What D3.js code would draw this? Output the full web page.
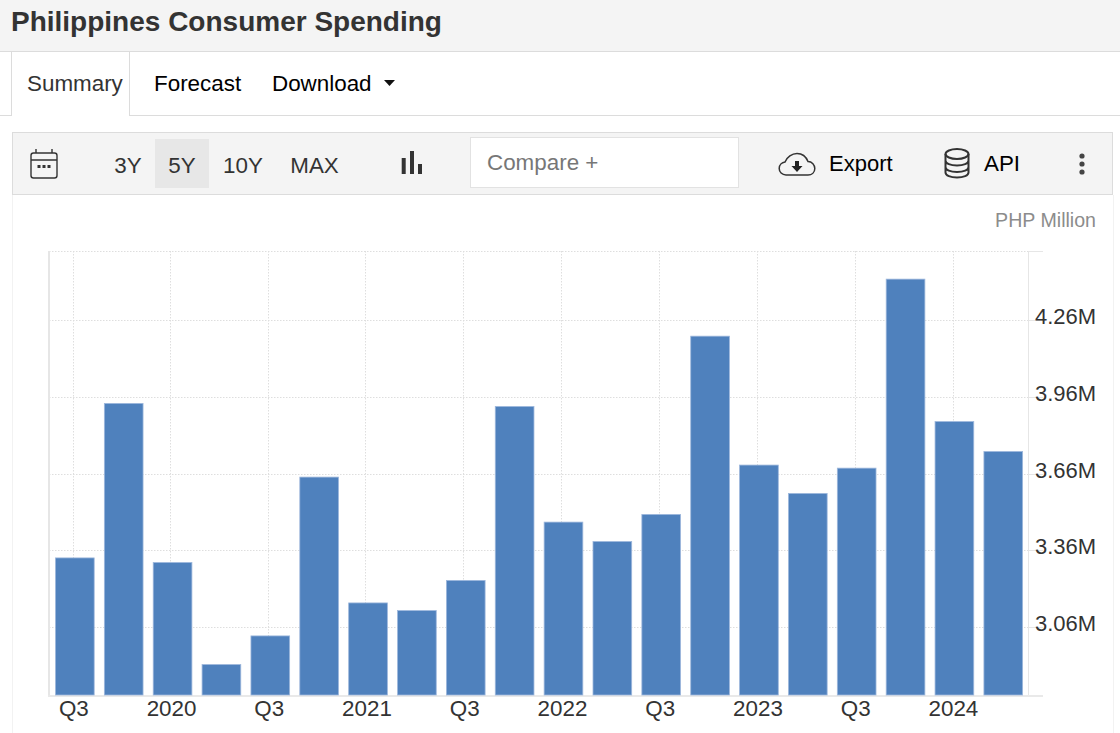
<!DOCTYPE html>
<html><head><meta charset="utf-8">
<script src="https://cdn.jsdelivr.net/npm/d3@7"></script>
<style>html,body{margin:0;padding:0;background:#fff;overflow:hidden}svg{display:block}text{font-family:"Liberation Sans",Arial,sans-serif}</style>
</head><body><svg id="c" width="1120" height="733"></svg>
<script>
const quarters=["2019Q3","2019Q4","2020Q1","2020Q2","2020Q3","2020Q4","2021Q1","2021Q2","2021Q3","2021Q4","2022Q1","2022Q2","2022Q3","2022Q4","2023Q1","2023Q2","2023Q3","2023Q4","2024Q1","2024Q2"];
const spending=[3.332,3.936,3.314,2.915,3.027,3.648,3.156,3.126,3.244,3.924,3.472,3.396,3.502,4.199,3.695,3.584,3.683,4.422,3.865,3.748];
const yTicks=[3.06,3.36,3.66,3.96,4.26];
const xTickLabels={"2019Q3":"Q3","2020Q1":"2020","2020Q3":"Q3","2021Q1":"2021","2021Q3":"Q3","2022Q1":"2022","2022Q3":"Q3","2023Q1":"2023","2023Q3":"Q3","2024Q1":"2024"};
const rangeLabels=["3Y","5Y","10Y","MAX"];

const svg=d3.select("#c");
const rect=(x,y,w,h,f,s)=>svg.append("rect").attr("x",x).attr("y",y).attr("width",w).attr("height",h).attr("fill",f).attr("stroke",s||"none");
const line=(x1,y1,x2,y2,s,d)=>svg.append("line").attr("x1",x1).attr("y1",y1).attr("x2",x2).attr("y2",y2).attr("stroke",s).attr("stroke-dasharray",d||null);
const text=(x,y,t,size,fill,anchor,weight)=>svg.append("text").attr("x",x).attr("y",y).attr("font-size",size).attr("fill",fill).attr("text-anchor",anchor||"start").attr("font-weight",weight||"normal").text(t);

// header
rect(0,0,1120,51,"#f4f4f4");
line(0,51.5,1120,51.5,"#dcdcdc");
text(11,31,"Philippines Consumer Spending",28,"#333","start","bold");
// tabs
line(0,115.5,11,115.5,"#dcdcdc");line(129,115.5,1120,115.5,"#dcdcdc");
line(11.5,52,11.5,116,"#dcdcdc");line(129.5,52,129.5,116,"#dcdcdc");
text(27,90.5,"Summary",22.4,"#333");
text(154,90.5,"Forecast",22.4,"#000");
text(272,90.5,"Download",22.4,"#000");
svg.append("path").attr("d","M384 80h11l-5.500 6z").attr("fill","#111");
// toolbar
rect(12.5,132.5,1100,62,"#f4f4f4","#dcdcdc");
rect(155,139,54,49,"#e7e7e7");
[128,182,243,314.500].forEach((x,i)=>text(x,172.500,rangeLabels[i],22.4,"#333","middle"));
// calendar icon
const ic=svg.append("g").attr("fill","none").attr("stroke","#333").attr("stroke-width",1.4);
ic.append("rect").attr("x",31).attr("y",153).attr("width",26).attr("height",25).attr("rx",2.500);
ic.append("path").attr("d","M31 160h26M36 149v4M52 149v4");
svg.append("path").attr("d","M37.500 165h3v3h-3zM42.500 165h3v3h-3zM47.500 165h3v3h-3z").attr("fill","#333");
// bar-type icon
svg.append("path").attr("d","M401.700 158h4v16h-4zM410 151h4v23h-4zM418 164h4v10h-4z").attr("fill","#333");
// compare input
rect(470.500,137.500,268,50,"#fff","#e2e2e2");
text(487,169.500,"Compare +",22.4,"#777");
// export cloud
svg.append("path").attr("d","M786 175c-4 0-6.800-3-6.800-6.500c0-3.500 2.800-6 5.800-6.500c2-5 7-8.500 12-8.500c5 0 9 3 11 8c4 0 6.800 3.500 6.800 7c0 4-3 6.500-6.800 6.500z").attr("fill","none").attr("stroke","#333").attr("stroke-width",1.500);
svg.append("path").attr("d","M795 161h4v5h3.500l-5.500 6-5.500-6h3.500z").attr("fill","#222");
text(829,170.500,"Export",22,"#000");
// database icon
const db=svg.append("g").attr("fill","none").attr("stroke","#333").attr("stroke-width",2);
db.append("ellipse").attr("cx",957).attr("cy",154).attr("rx",11.500).attr("ry",5);
db.append("path").attr("d","M945.500 154v18.500c0 3 5 5 11.500 5s11.500-2 11.500-5v-18.500M945.500 160.500c0 3 5 5 11.500 5s11.500-2 11.500-5M945.500 167c0 3 5 5 11.500 5s11.500-2 11.500-5");
text(984,170.500,"API",22.4,"#000");
[156,164,172].forEach(cy=>svg.append("circle").attr("cx",1082).attr("cy",cy).attr("r",2.600).attr("fill","#444"));
// panel borders
line(12.5,195,12.5,733,"#f2f2f2");line(1113.5,195,1113.5,733,"#f2f2f2");
text(1096,227,"PHP Million",19.6,"#8c8c8c","end");

// chart
const plot={left:49,right:1028,top:251,bottom:695};
const x=d3.scaleBand().domain(quarters).range([50.6,1027.9]).paddingInner(0.2).paddingOuter(0.1);
const y=d3.scaleLinear().domain([2.796,4.532]).range([plot.bottom,plot.top]);
const gridX=[73,170,268,365,463,561,659,757,855,953];
const gridDash="1.500 1.500";
const gy=svg.append("g");
yTicks.forEach(v=>gy.append("line").attr("x1",plot.left).attr("x2",plot.right).attr("y1",Math.floor(y(v))+.5).attr("y2",Math.floor(y(v))+.5).attr("stroke","#dedede").attr("stroke-dasharray",gridDash));
gy.append("line").attr("x1",plot.left).attr("x2",plot.right).attr("y1",plot.top+.5).attr("y2",plot.top+.5).attr("stroke","#dedede").attr("stroke-dasharray",gridDash);
gridX.forEach(v=>gy.append("line").attr("x1",v+.5).attr("x2",v+.5).attr("y1",plot.top).attr("y2",plot.bottom).attr("stroke","#dedede").attr("stroke-dasharray",gridDash));
rect(48,251,2,445,"#e6e6e6");
line(1028.5,251,1028.5,696,"#e6e6e6");
rect(48,695,995,2,"#e9e9e9");
line(1028,251.5,1043,251.5,"#e6e6e6");
yTicks.forEach(v=>line(1028,Math.floor(y(v))+.5,1043,Math.floor(y(v))+.5,"#e6e6e6"));

svg.append("g").selectAll("rect").data(quarters).join("rect")
  .attr("x",d=>x(d)).attr("width",x.bandwidth()-0.4)
  .attr("y",(d,i)=>y(spending[i])).attr("height",(d,i)=>plot.bottom-y(spending[i]))
  .attr("fill","#4f81bd").attr("stroke","#9db7dc").attr("stroke-width",0.8);

const ax=svg.append("g").attr("transform",`translate(-1.2,${plot.bottom})`)
  .call(d3.axisBottom(x).tickValues(Object.keys(xTickLabels)).tickFormat(d=>xTickLabels[d]).tickSize(0).tickPadding(0));
ax.select(".domain").remove();
ax.selectAll("text").attr("font-size",22.4).attr("fill","#333").attr("y",5).attr("dy","0.71em").attr("font-family",'"Liberation Sans"');
const ay=svg.append("g").attr("transform",`translate(1035,0)`)
  .call(d3.axisRight(y).tickValues(yTicks).tickFormat(d=>d.toFixed(2)+"M").tickSize(0).tickPadding(0));
ay.select(".domain").remove();
ay.selectAll("text").attr("font-size",22).attr("fill","#333").attr("dy","0.14em").attr("font-family",'"Liberation Sans"');
</script></body></html>
